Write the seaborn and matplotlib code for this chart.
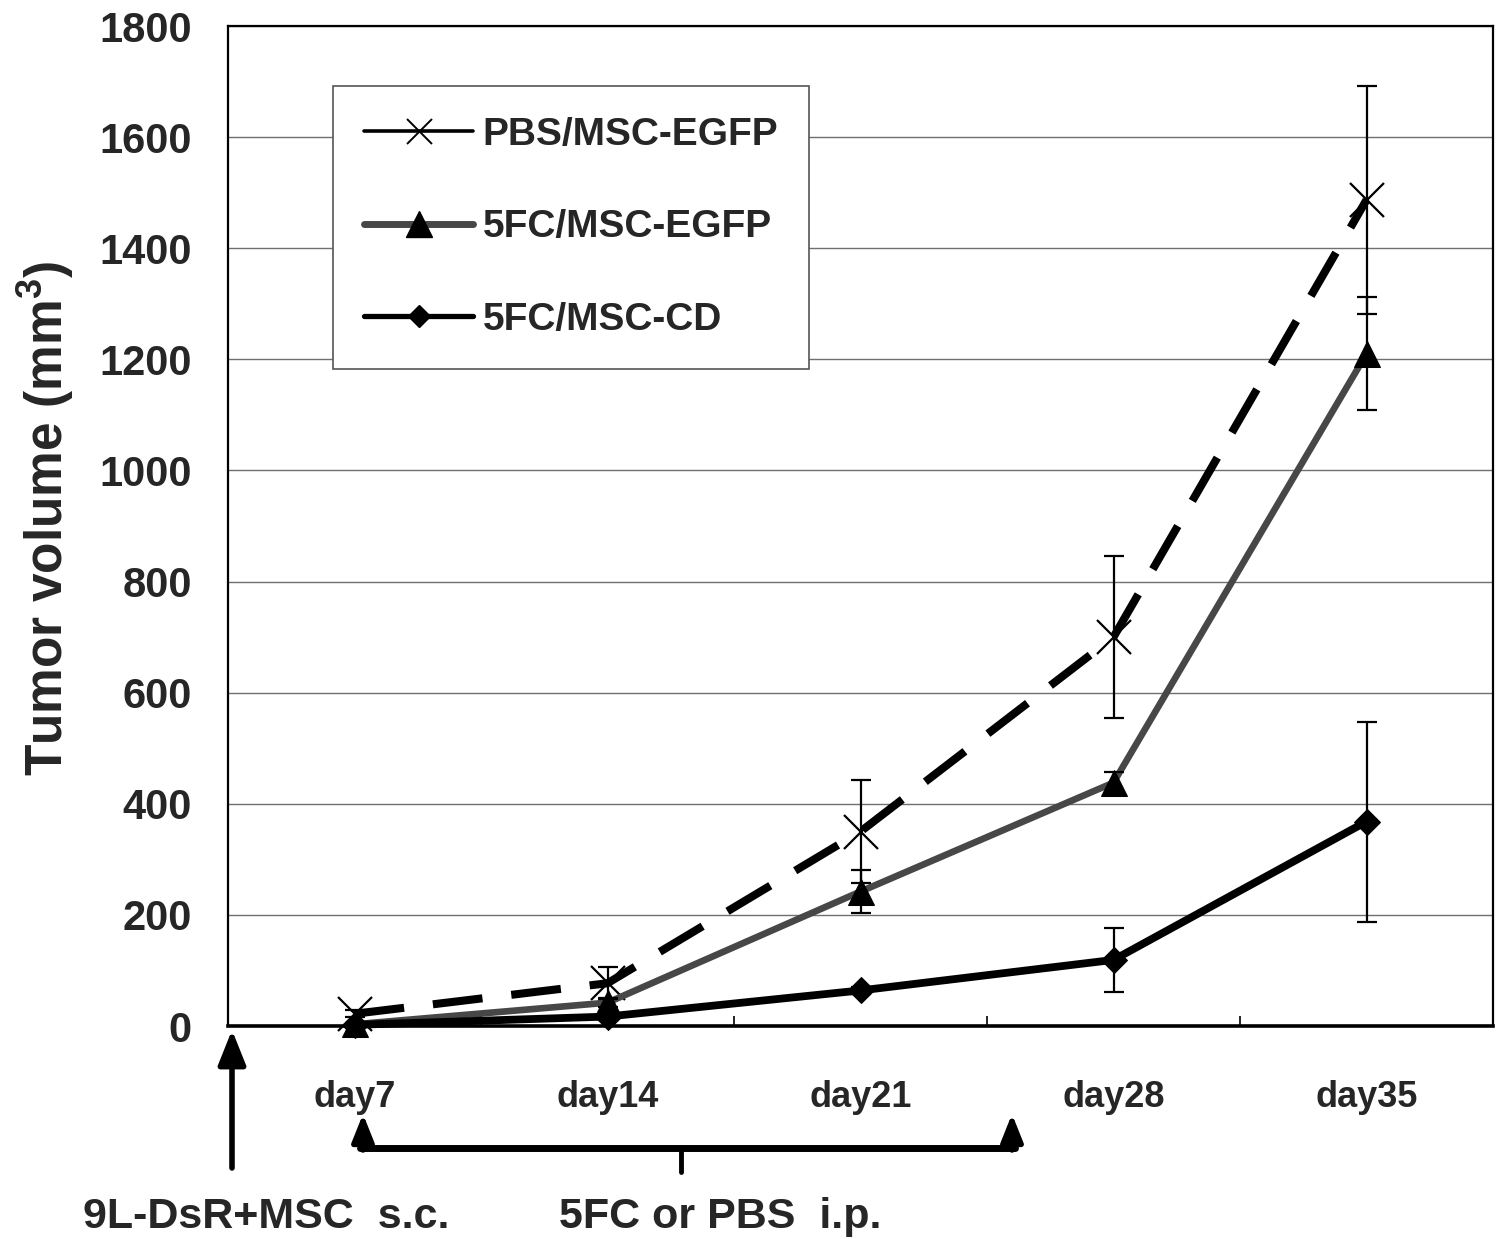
import numpy as np
import pandas as pd
import matplotlib
matplotlib.use("Agg")
import matplotlib.pyplot as plt
from matplotlib.lines import Line2D
from matplotlib.patches import FancyArrowPatch
import seaborn as sns

sns.set_style("white")
plt.rcParams['font.family'] = ['Liberation Sans', 'DejaVu Sans']
plt.rcParams['font.weight'] = 'bold'
plt.rcParams['mathtext.fontset'] = 'custom'
plt.rcParams['mathtext.bf'] = 'Liberation Sans:bold'
plt.rcParams['mathtext.rm'] = 'Liberation Sans:bold'

# data
days = ['day7', 'day14', 'day21', 'day28', 'day35']
pbs_mean = [22, 77, 350, 700, 1487]
pbs_err = [6, 29, 92, 146, 205]
egfp_mean = [3, 42, 242, 438, 1210]
egfp_err = [2, 8, 39, 19, 102]
cd_mean = [2, 17, 64, 119, 368]
cd_err = [1, 4, 6, 58, 180]
labels = ['PBS/MSC-EGFP', '5FC/MSC-EGFP', '5FC/MSC-CD']
yticks = np.arange(0, 1801, 200)

W, H = 1499, 1239
fig = plt.figure(figsize=(W / 100, H / 100), dpi=100)
ax = fig.add_axes([228 / W, 1 - 1026 / H, (1493 - 228) / W, 1000 / H])

pos = np.arange(len(days))
df = pd.DataFrame({'pos': pos, 'pbs': pbs_mean, 'egfp': egfp_mean, 'cd': cd_mean})
grey = '#474747'

# lines
sns.lineplot(data=df, x='pos', y='pbs', ax=ax, color='black', linewidth=5.8,
             linestyle=(0, (6.2, 3.6)), marker='x', markersize=25,
             markeredgewidth=1.6, markeredgecolor='black', zorder=3, clip_on=False)
sns.lineplot(data=df, x='pos', y='egfp', ax=ax, color=grey, linewidth=4.8,
             marker='^', markersize=19, markerfacecolor='black',
             markeredgecolor='black', zorder=4, clip_on=False)
sns.lineplot(data=df, x='pos', y='cd', ax=ax, color='black', linewidth=5.6,
             marker='D', markersize=13, markerfacecolor='black',
             markeredgecolor='black', zorder=5, clip_on=False)

# error bars
for m, e in [(pbs_mean, pbs_err), (egfp_mean, egfp_err), (cd_mean, cd_err)]:
    ax.errorbar(pos, m, yerr=e, fmt='none', ecolor='black', elinewidth=1.6,
                capsize=7, capthick=1.6, zorder=6)

ax.set_xlim(-0.5, len(days) - 0.5)
ax.set_ylim(0, 1800)
ax.set_yticks(yticks)
ax.set_yticklabels([str(v) for v in yticks], fontsize=30, fontweight='bold')
ax.set_xticks(pos)
ax.set_xticklabels(days, fontsize=26, fontweight='bold')
ax.set_xticks(pos[:-1] + 0.5, minor=True)
ax.tick_params(axis='x', which='major', bottom=True, length=0, pad=39)
ax.tick_params(axis='x', which='minor', bottom=True, direction='in', length=7,
               width=1.2, color='black')
ax.tick_params(axis='y', length=0, pad=26)
ax.yaxis.grid(True, color='#707070', linewidth=1)
ax.xaxis.grid(False)
ax.set_xlabel('')
ax.set_ylabel(r'Tumor volume (mm$^{\mathbf{3}}$)', fontsize=37, fontweight='bold')
ax.yaxis.set_label_coords(-0.144, 0.508)
ax.yaxis.label.set_verticalalignment('center')

for s in ['top', 'right', 'left']:
    ax.spines[s].set_color('black')
    ax.spines[s].set_linewidth(1.6)
ax.spines['bottom'].set_color('black')
ax.spines['bottom'].set_linewidth(2.6)
ax.spines['bottom'].set_zorder(2)

# legend
handles = [
    Line2D([], [], color='black', linewidth=2.6, marker='x', markersize=18,
           markeredgewidth=1.4, solid_capstyle='round'),
    Line2D([], [], color=grey, linewidth=5, marker='^', markersize=19,
           markerfacecolor='black', markeredgecolor='black'),
    Line2D([], [], color='black', linewidth=3.8, marker='D', markersize=11,
           markerfacecolor='black', markeredgecolor='black', solid_capstyle='round'),
]
leg = ax.legend(handles, labels, loc='upper left', bbox_to_anchor=(0.083, 0.94),
                borderaxespad=0, frameon=True, fancybox=False, framealpha=1,
                edgecolor='#555555', prop={'size': 28, 'weight': 'bold'},
                handlelength=2.8, handletextpad=0.25, labelspacing=1.45,
                borderpad=0.8)
leg.get_frame().set_linewidth(1.2)


def fy(y_img):
    return (H - y_img) / H


def fx(x_img):
    return x_img / W


def arrow(x, y0, y1, lw, scale):
    fig.add_artist(FancyArrowPatch(
        (fx(x), fy(y0)), (fx(x), fy(y1)), transform=fig.transFigure,
        arrowstyle='-|>,head_length=1.5,head_width=0.6', color='black',
        lw=lw, shrinkA=0, shrinkB=0, mutation_scale=scale))


# implantation arrow
arrow(232, 1168, 1030, 4, 14)
# treatment bracket
for xa in [363, 1012]:
    arrow(xa, 1150, 1114, 4, 11)
fig.add_artist(Line2D([fx(360), fx(1015)], [fy(1148), fy(1148)],
                      transform=fig.transFigure, color='black', lw=5))
fig.add_artist(Line2D([fx(681), fx(681)], [fy(1148), fy(1172)],
                      transform=fig.transFigure, color='black', lw=3.5))

fig.text(fx(266), fy(1228), '9L-DsR+MSC  s.c.', ha='center', va='baseline',
         fontsize=31, fontweight='bold')
fig.text(fx(720), fy(1228), '5FC or PBS  i.p.', ha='center', va='baseline',
         fontsize=31, fontweight='bold')

fig.savefig('out.png', dpi=100)
